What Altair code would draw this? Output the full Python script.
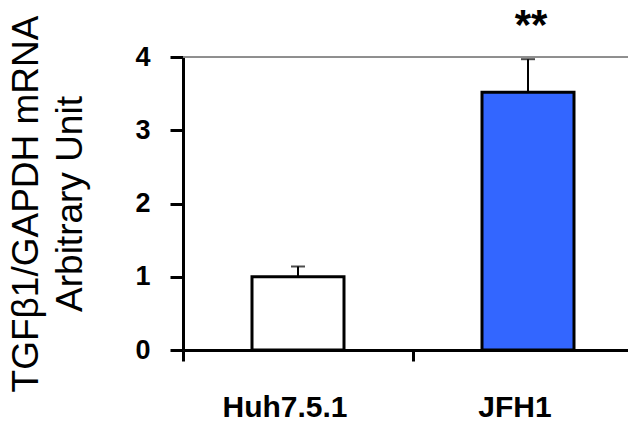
import altair as alt
import pandas as pd

groups = ["Huh7.5.1", "JFH1"]
means = [1.0, 3.52]
upper = [1.14, 3.97]
fills = ["#FFFFFF", "#3366FF"]
sig = ["", "**"]
y_ticks = [0, 1, 2, 3, 4]

df = pd.DataFrame({"group": groups, "mean": means, "upper": upper, "fill": fills, "sig": sig})

FONT = "Liberation Sans"

x_scale = alt.Scale(paddingInner=0, paddingOuter=0, range=[0, 460])

x_enc = alt.X(
    "group:N",
    sort=groups,
    scale=x_scale,
    axis=alt.Axis(
        title=None,
        labelAngle=0,
        bandPosition=0,
        labelFont=FONT,
        labelFontSize=30,
        labelFontWeight="bold",
        labelColor="black",
        labelPadding=31,
        labelOffset=-13,
        tickSize=11,
        tickWidth=3,
        tickColor="black",
        domainWidth=3,
        domainColor="black",
        grid=False,
    ),
)

y_scale = alt.Scale(domain=[0, 4], nice=False)

bars = alt.Chart(df).mark_bar(width=92, stroke="black", strokeWidth=3).encode(
    x=x_enc,
    y=alt.Y(
        "mean:Q",
        scale=y_scale,
        axis=alt.Axis(
            values=y_ticks,
            format="d",
            title=["TGFβ1/GAPDH mRNA", "Arbitrary Unit"],
            titleFont=FONT,
            titleFontSize=37,
            titleFontWeight="normal",
            titleColor="black",
            titleLineHeight=44,
            titlePadding=45,
            labelFont=FONT,
            labelFontSize=27,
            labelFontWeight="bold",
            labelColor="black",
            labelPadding=20,
            tickSize=13,
            tickWidth=3,
            tickColor="black",
            domainWidth=3,
            domainColor="black",
            grid=False,
        ),
    ),
    fill=alt.Fill("fill:N", scale=None),
)

stems = alt.Chart(df).mark_rule(color="black", strokeWidth=2).encode(
    x=alt.X("group:N", sort=groups, scale=x_scale),
    y=alt.Y("mean:Q", scale=y_scale),
    y2="upper:Q",
)

caps = alt.Chart(df).mark_tick(color="black", thickness=2, size=14, orient="horizontal").encode(
    x=alt.X("group:N", sort=groups, scale=x_scale),
    y=alt.Y("upper:Q", scale=y_scale),
)

top_line = alt.Chart(df).mark_rule(color="#888888", strokeWidth=1.5).encode(
    y=alt.datum(4, scale=y_scale),
)

stars = alt.Chart(df).mark_text(
    font=FONT, fontSize=42, fontWeight="bold", color="black", baseline="middle", dx=3, dy=6
).encode(
    x=alt.X("group:N", sort=groups, scale=x_scale),
    y=alt.datum(4.5),
    text="sig:N",
)

chart = (
    alt.layer(top_line, bars, stems, caps, stars)
    .properties(
        width=445,
        height=293,
        autosize=alt.AutoSizeParams(type="none"),
        padding={"left": 175, "top": 49, "right": 0, "bottom": 72},
    )
    .configure_view(stroke=None)
    .configure(background="white")
)

chart.save("out.html", embed_options={"renderer": "svg", "actions": False})
